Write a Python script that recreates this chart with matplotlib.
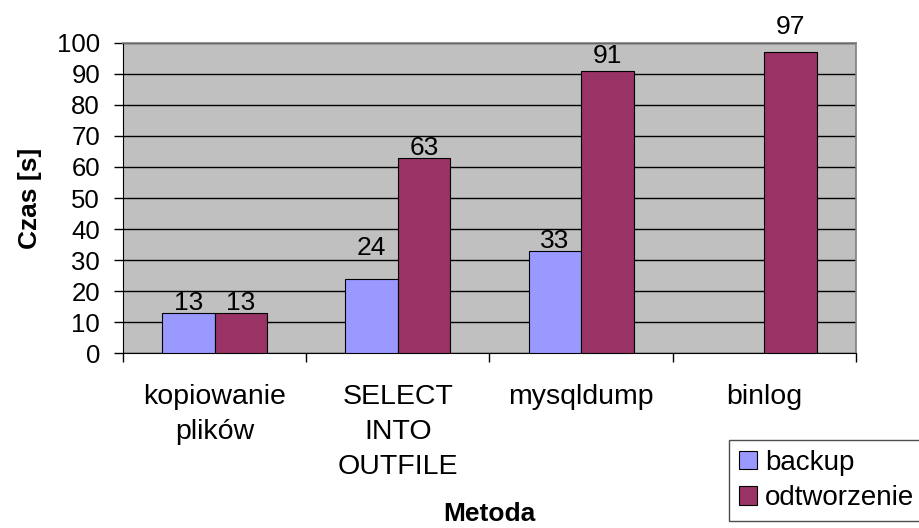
import numpy as np
import matplotlib
matplotlib.use('AGG')
import matplotlib.pyplot as plt

# czasy wykonania dla poszczególnych metod [s]
metody = ['kopiowanie\nplików', 'SELECT\nINTO\nOUTFILE', 'mysqldump', 'binlog']
backup = [13, 24, 33, np.nan]
odtworzenie = [13, 63, 91, 97]

plt.rcParams['font.family'] = ['Liberation Sans', 'DejaVu Sans']

fig = plt.figure(figsize=(9.2, 5.28), dpi=100)
ax = fig.add_axes([0.1337, 0.3314, 0.7967, 0.5872])

x = np.arange(len(metody))
w = 0.287

b1 = ax.bar(x - w / 2, backup, w, color='#9999FF', edgecolor='black', linewidth=0.8,
            label='backup', zorder=3)
b2 = ax.bar(x + w / 2, odtworzenie, w, color='#993366', edgecolor='black', linewidth=0.8,
            label='odtworzenie', zorder=3)

# etykiety z wartościami nad słupkami (kilka podniesionych wyżej)
extra = {('backup', 1): 15, ('odtworzenie', 3): 11, ('odtworzenie', 2): 4}
for name, bars, vals in [('backup', b1, backup), ('odtworzenie', b2, odtworzenie)]:
    for i, (rect, v) in enumerate(zip(bars, vals)):
        if np.isnan(v):
            continue
        ax.annotate('%d' % v, (rect.get_x() + rect.get_width() / 2, v),
                    xytext=(0, 2 + extra.get((name, i), 0)), textcoords='offset points',
                    ha='center', va='baseline', fontsize=19, annotation_clip=False)

ax.set_facecolor('#C0C0C0')
ax.set_xlim(-0.5, len(metody) - 0.5)
ax.set_ylim(0, 100)
ax.set_yticks(range(0, 101, 10))
ax.yaxis.grid(True, color='black', linewidth=1)
ax.set_axisbelow(True)

# podziałka na granicach kategorii, podpisy na środku
ax.set_xticks(np.arange(-0.5, len(metody), 1))
ax.set_xticklabels([])
ax.set_xticks(x, minor=True)
ax.set_xticklabels(metody, minor=True, fontsize=20.5, linespacing=1.45)
ax.tick_params(axis='x', which='minor', length=0, pad=22)
ax.tick_params(axis='x', which='major', length=6.5, width=1, direction='out')
ax.tick_params(axis='y', length=6.5, width=1, direction='out', labelsize=18.5, pad=10)

for s in ['top', 'right']:
    ax.spines[s].set_color('#808080')
    ax.spines[s].set_linewidth(1.2)
for s in ['left', 'bottom']:
    ax.spines[s].set_color('black')

ax.set_ylabel('Czas [s]', fontsize=19, fontweight='bold', labelpad=11)
ax.set_xlabel('Metoda', fontsize=19, fontweight='bold', labelpad=16)

leg = fig.legend(loc='lower left', bbox_to_anchor=(729 / 920, 7 / 528),
                 fontsize=20, frameon=True, fancybox=False, edgecolor='#202020',
                 handlelength=0.65, handleheight=0.65, handletextpad=0.3,
                 borderpad=0.35, labelspacing=0.35, borderaxespad=0)
leg.get_frame().set_linewidth(1)

plt.savefig('out.png')
plt.close('all')
